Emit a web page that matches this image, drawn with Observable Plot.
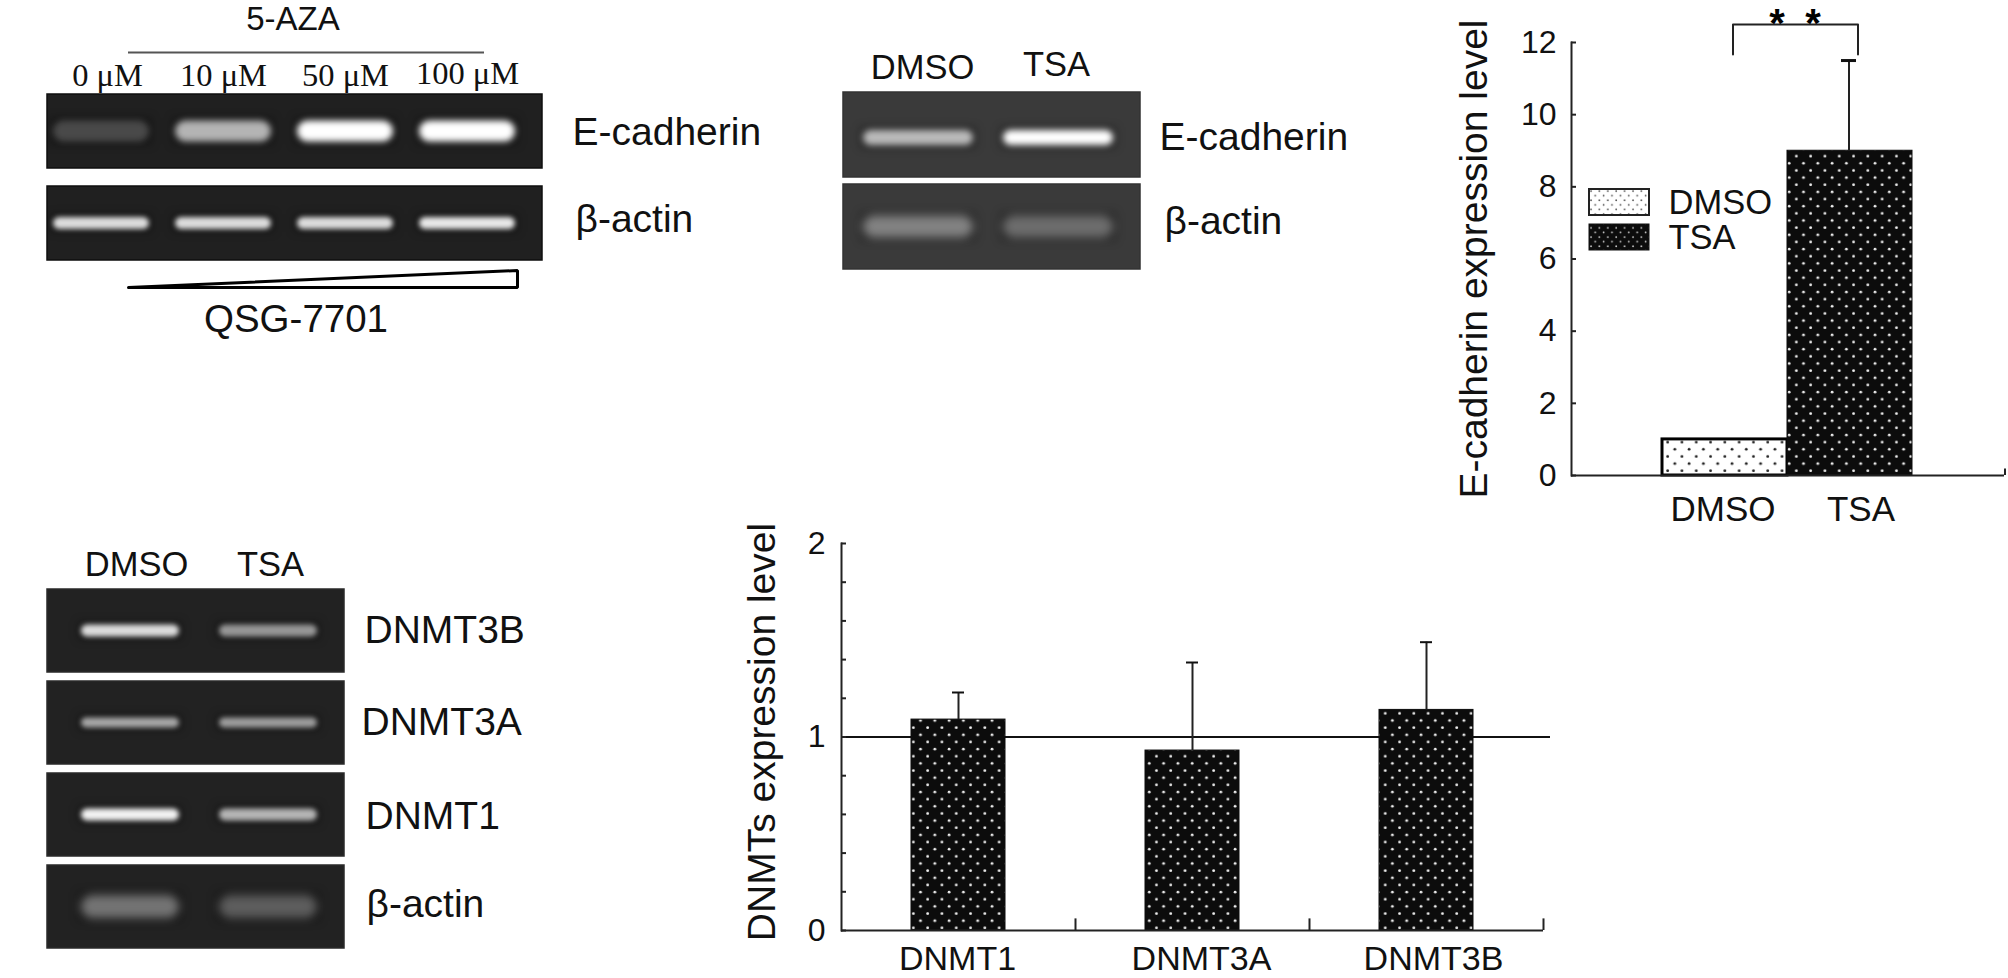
<!DOCTYPE html>
<html>
<head>
<meta charset="utf-8">
<script src="https://cdn.jsdelivr.net/npm/d3@7"></script>
<script src="https://cdn.jsdelivr.net/npm/@observablehq/plot@0.6"></script>
<style>
html,body{margin:0;padding:0;background:#fff}
#page{position:relative;width:2008px;height:978px;overflow:hidden;background:#fff}
#page svg{position:absolute;overflow:visible;max-width:none}
</style>
</head>
<body>
<div id="page">
<svg width="0" height="0" style="left:0;top:0">
  <defs>
    <pattern id="dotsDark" width="14.3" height="14.3" patternUnits="userSpaceOnUse" x="3" y="3">
      <rect width="14.3" height="14.3" fill="#0c0c0c"/>
      <circle cx="3" cy="3" r="1.4" fill="#eee"/>
      <circle cx="10.15" cy="10.15" r="1.4" fill="#eee"/>
    </pattern>
    <pattern id="dotsLight" width="14.3" height="14.3" patternUnits="userSpaceOnUse" x="3" y="3">
      <rect width="14.3" height="14.3" fill="#fff"/>
      <circle cx="3" cy="3" r="1.4" fill="#222"/>
      <circle cx="10.15" cy="10.15" r="1.4" fill="#222"/>
    </pattern>
    <pattern id="legendDark" width="8.4" height="9.2" patternUnits="userSpaceOnUse">
      <rect width="8.4" height="9.2" fill="#0c0c0c"/>
      <circle cx="2" cy="2" r=".9" fill="#ccc"/>
      <circle cx="6.2" cy="6.6" r=".9" fill="#ccc"/>
    </pattern>
    <pattern id="legendLight" width="8.4" height="9.2" patternUnits="userSpaceOnUse">
      <rect width="8.4" height="9.2" fill="#fff"/>
      <circle cx="2" cy="2" r=".9" fill="#555"/>
      <circle cx="6.2" cy="6.6" r=".9" fill="#555"/>
    </pattern>
  </defs>
</svg>
</div>
<script>
// ---- data ----
const treatments = ["DMSO", "TSA"];
const ecadherinMean = [1, 9];
const ecadherinUpper = [null, 11.5];
const ecadherinTicks = [0, 2, 4, 6, 8, 10, 12];

const dnmtNames = ["DNMT1", "DNMT3A", "DNMT3B"];
const dnmtMean = [1.09, 0.93, 1.14];
const dnmtUpper = [1.23, 1.385, 1.49];
const dnmtMinorTicks = [0, .2, .4, .6, .8, 1, 1.2, 1.4, 1.6, 1.8, 2];
const dnmtLabelTicks = [0, 1, 2];

const azaDoses = ["0 μM", "10 μM", "50 μM", "100 μM"];
const azaRows = ["E-cadherin", "β-actin"];
const azaBands = [[.22, .68, 1, 1], [.85, .85, .85, .9]];

const tsaRows = ["E-cadherin", "β-actin"];
const tsaBands = [[.68, 1], [.42, .32]];

const dnmtRows = ["DNMT3B", "DNMT3A", "DNMT1", "β-actin"];
const dnmtBands = [[.85, .55], [.62, .58], [.95, .68], [.4, .3]];

const rampValues = [[0, 0], [1, 0], [1, 1], [0, 0]];

// ---- helpers ----
const SANS = "Liberation Sans, Arial, sans-serif";
const SERIF = "Liberation Serif, Times New Roman, serif";
const INK = "#111";
const page = document.getElementById("page");

function place(svg, left, top) {
  svg.style.left = left + "px";
  svg.style.top = top + "px";
  page.appendChild(svg);
}

function gel(o) {
  const cells = o.rows.flatMap((row, i) => o.lanes.map((lane, j) => ({row, lane, v: o.bands[i][j]})));
  const marks = [
    Plot.cell(o.rows, {y: d => d, fill: o.bg, stroke: o.edge, strokeWidth: 1.5})
  ];
  o.rows.forEach((row, i) => {
    const t = o.thickness[i];
    const inset = (o.rowHeight - t) / 2;
    const dy = o.bandDy ? o.bandDy[i] : 0;
    const data = cells.filter(d => d.row === row);
    marks.push(
      Plot.cell(data, {x: "lane", y: "row", fill: "#000", fillOpacity: .3,
        insetLeft: o.inset - 3, insetRight: o.inset - 3, insetTop: inset - 3, insetBottom: inset - 3,
        dy, imageFilter: "blur(4px)", clip: "frame"}),
      Plot.cell(data, {x: "lane", y: "row", fill: "#fff", fillOpacity: d => d.v,
        insetLeft: o.inset, insetRight: o.inset, insetTop: inset, insetBottom: inset,
        r: t / 2, dy, imageFilter: `blur(${o.blur[i]}px)`, clip: "frame"}),
      Plot.text([row], {
        y: d => d, frameAnchor: "right", textAnchor: "start",
        dx: o.labelDx[i], dy: o.labelDy[i], fontSize: o.rowFont, fontFamily: SANS, fill: INK
      })
    );
  });
  o.lanes.forEach((lane, j) => marks.push(Plot.text([lane], {
    x: d => d, frameAnchor: "top", lineAnchor: "bottom",
    dx: o.topDx[j], dy: o.topDy[j], fontSize: o.topFont, fontFamily: o.topFamily, fill: INK
  })));
  return Plot.plot({
    width: o.width + o.marginRight, height: o.height + o.marginTop,
    marginLeft: 0, marginRight: o.marginRight, marginTop: o.marginTop, marginBottom: 0,
    x: {type: "band", domain: o.lanes, range: o.xRange, padding: 0, axis: null},
    y: {type: "band", domain: o.rows, paddingInner: o.gap, paddingOuter: 0, axis: null},
    style: {background: "transparent", overflow: "visible"},
    marks
  });
}

// ---- gel 1: 5-AZA ----
place(gel({
  lanes: azaDoses, rows: azaRows, bands: azaBands,
  width: 495, height: 167, rowHeight: 75, gap: .2,
  marginTop: 50, marginRight: 240,
  xRange: [-8, 481], inset: 13, thickness: [22, 13], blur: [3, 2.5],
  bg: "#202020", edge: "#0e0e0e",
  labelDx: [30, 33], labelDy: [1, -4], rowFont: 39,
  topFont: 32.5, topFamily: SERIF, topDx: [6, 0, 0, 0], topDy: [-8, -8, -8, -10]
}), 47, 43);

// annotations of gel 1: "5-AZA" bar and the QSG-7701 ramp
place(Plot.plot({
  width: 389, height: 60, marginLeft: 0, marginRight: 0, marginTop: 0, marginBottom: 0,
  x: {domain: [0, 1], axis: null}, y: {domain: [0, 1], axis: null},
  style: {background: "transparent", overflow: "visible"},
  marks: [
    Plot.text(["5-AZA"], {frameAnchor: "top", dx: -30, dy: 27, fontSize: 33, fontFamily: SANS, fill: INK, lineAnchor: "middle"}),
    Plot.ruleY([0], {stroke: "#555", strokeWidth: 2, insetRight: 33})
  ]
}), 128, 0 - 8);

place(Plot.plot({
  width: 389, height: 17, marginLeft: 0, marginRight: 0, marginTop: 0, marginBottom: 0,
  x: {domain: [0, 1], axis: null}, y: {domain: [0, 1], axis: null},
  style: {background: "transparent", overflow: "visible"},
  marks: [
    Plot.line(rampValues, {x: "0", y: "1", stroke: "#000", strokeWidth: 3, fill: "none", strokeLinejoin: "miter"}),
    Plot.text(["QSG-7701"], {frameAnchor: "bottom", dx: -27, dy: 32, fontSize: 38.5, fontFamily: SANS, fill: INK, lineAnchor: "middle"})
  ]
}), 128, 270);

// ---- gel 2: TSA / E-cadherin ----
place(gel({
  lanes: treatments, rows: tsaRows, bands: tsaBands,
  width: 297, height: 177, rowHeight: 85, gap: .08,
  marginTop: 50, marginRight: 240,
  xRange: [5, 285], inset: 15, thickness: [15, 22], blur: [3, 5], bandDy: [3, 0],
  bg: "#3a3a3a", edge: "#333",
  labelDx: [19, 24], labelDy: [3, -5], rowFont: 39,
  topFont: 34.5, topFamily: SANS, topDx: [4, -2], topDy: [-14, -17]
}), 843, 42);

// ---- gel 3: DNMTs ----
place(gel({
  lanes: treatments, rows: dnmtRows, bands: dnmtBands,
  width: 297, height: 360, rowHeight: 84, gap: .095,
  marginTop: 50, marginRight: 240,
  xRange: [14, 290], inset: 20, thickness: [13, 11, 13, 24], blur: [2.5, 2.5, 2.5, 5],
  bg: "#222", edge: "#2a2a2a",
  labelDx: [20, 17, 21, 22], labelDy: [0, 0, 2, -2], rowFont: 39,
  topFont: 34.5, topFamily: SANS, topDx: [6, 2], topDy: [-14, -14]
}), 47, 539);

// ---- bar chart 1: E-cadherin ----
const ecad = treatments.map((name, i) => ({name, mean: ecadherinMean[i], upper: ecadherinUpper[i]}));
place(Plot.plot({
  width: 568, height: 530,
  marginLeft: 131, marginRight: 4, marginTop: 42, marginBottom: 55,
  x: {type: "band", domain: treatments, range: [222, 472], padding: 0, axis: null},
  y: {domain: [0, 12], axis: null},
  style: {background: "transparent", overflow: "visible"},
  marks: [
    Plot.barY(ecad.filter(d => d.name === "DMSO"), {x: "name", y: "mean", fill: "url(#dotsLight)", stroke: "#000", strokeWidth: 3}),
    Plot.barY(ecad.filter(d => d.name === "TSA"), {x: "name", y: "mean", fill: "url(#dotsDark)", stroke: "#0c0c0c", strokeWidth: 1}),
    Plot.ruleX(ecad.filter(d => d.upper != null), {x: "name", y1: "mean", y2: "upper", stroke: "#222", strokeWidth: 2, dx: -1}),
    Plot.tickY(ecad.filter(d => d.upper != null), {x: "name", y: "upper", stroke: "#111", strokeWidth: 3, insetLeft: 55, insetRight: 55, dx: -1}),
    Plot.ruleY([0], {stroke: "#222", strokeWidth: 2}),
    Plot.frame({anchor: "left", stroke: "#222", strokeWidth: 2}),
    Plot.ruleX(["TSA"], {x: d => d, y1: 0, y2: .18, dx: 155, stroke: "#222", strokeWidth: 2}),
    Plot.axisY({ticks: ecadherinTicks, tickSize: -5, tickPadding: 20, label: null, fontSize: 32, fontFamily: SANS, fill: INK, stroke: "#222", strokeWidth: 2}),
    Plot.text(["DMSO"], {x: d => d, y: 0, dy: 34, dx: -2, fontSize: 35, fontFamily: SANS, fill: INK}),
    Plot.text(["TSA"], {x: d => d, y: 0, dy: 34, dx: 11, fontSize: 35, fontFamily: SANS, fill: INK}),
    Plot.text(["E-cadherin expression level"], {frameAnchor: "left", textAnchor: "middle", rotate: -90, dx: -97, fontSize: 39, fontFamily: SANS, fill: INK}),
    Plot.line([{x: "DMSO", y: 11.67}, {x: "DMSO", y: 12.5}, {x: "TSA", y: 12.5}, {x: "TSA", y: 11.67}], {x: "x", y: "y", stroke: "#222", strokeWidth: 2, dx: 8}),
    Plot.text(["*"], {x: () => "TSA", y: () => 12.5, dx: -73, fontSize: 40, fontWeight: "bold", fontFamily: SANS, fill: "#000"}),
    Plot.text(["*"], {x: () => "TSA", y: () => 12.5, dx: -37, fontSize: 40, fontWeight: "bold", fontFamily: SANS, fill: "#000"})
  ]
}), 1440, 0);

// legend of chart 1
const legendPatterns = {DMSO: "url(#legendLight)", TSA: "url(#legendDark)"};
place(Plot.plot({
  width: 220, height: 62, marginLeft: 0, marginRight: 160, marginTop: 0, marginBottom: 0,
  y: {type: "band", domain: treatments, paddingInner: .25, paddingOuter: 0, axis: null},
  style: {background: "transparent", overflow: "visible"},
  marks: [
    Plot.cell(["DMSO"], {y: d => d, fill: legendPatterns.DMSO, stroke: "#222", strokeWidth: 2}),
    Plot.cell(["TSA"], {y: d => d, fill: legendPatterns.TSA, stroke: "#111", strokeWidth: 1}),
    Plot.text(treatments, {y: d => d, frameAnchor: "right", textAnchor: "start", dx: 19, fontSize: 34.5, fontFamily: SANS, fill: INK})
  ]
}), 1589, 189);

// ---- bar chart 2: DNMTs ----
const dnmt = dnmtNames.map((name, i) => ({name, mean: dnmtMean[i], upper: dnmtUpper[i]}));
const dnmtStep = 234;
const labelNudge = {DNMT1: -1, DNMT3A: 9, DNMT3B: 7};
place(Plot.plot({
  width: 980, height: 478,
  marginLeft: 141, marginRight: 130, marginTop: 43, marginBottom: 48,
  x: {type: "band", domain: dnmtNames, range: [141, 843], paddingInner: .6, paddingOuter: .3, axis: null},
  y: {domain: [0, 2], axis: null},
  style: {background: "transparent", overflow: "visible"},
  marks: [
    Plot.ruleY([1], {stroke: "#111", strokeWidth: 2}),
    Plot.barY(dnmt, {x: "name", y: "mean", fill: "url(#dotsDark)", stroke: "#0c0c0c", strokeWidth: 1}),
    Plot.ruleX(dnmt, {x: "name", y1: "mean", y2: "upper", stroke: "#222", strokeWidth: 2}),
    Plot.tickY(dnmt, {x: "name", y: "upper", stroke: "#111", strokeWidth: 2, insetLeft: 41, insetRight: 41}),
    Plot.ruleY([0], {stroke: "#222", strokeWidth: 2, insetRight: 7}),
    Plot.frame({anchor: "left", stroke: "#222", strokeWidth: 2}),
    Plot.ruleX(dnmtNames, {x: d => d, y1: 0, y2: .06, dx: dnmtStep / 2, stroke: "#222", strokeWidth: 2}),
    Plot.axisY({ticks: dnmtMinorTicks, tickFormat: () => null, tickSize: -5, label: null, stroke: "#222", strokeWidth: 2}),
    Plot.axisY({ticks: dnmtLabelTicks, tickFormat: d => String(d), tickSize: 0, tickPadding: 16, label: null, fontSize: 32, fontFamily: SANS, fill: INK}),
    ...dnmtNames.map(name => Plot.text([name], {x: d => d, y: 0, dy: 29, dx: labelNudge[name], fontSize: 34, fontFamily: SANS, fill: INK})),
    Plot.text(["DNMTs expression level"], {frameAnchor: "left", textAnchor: "middle", rotate: -90, dx: -79, dy: -5, fontSize: 39, fontFamily: SANS, fill: INK})
  ]
}), 700, 500);
</script>
</body>
</html>
